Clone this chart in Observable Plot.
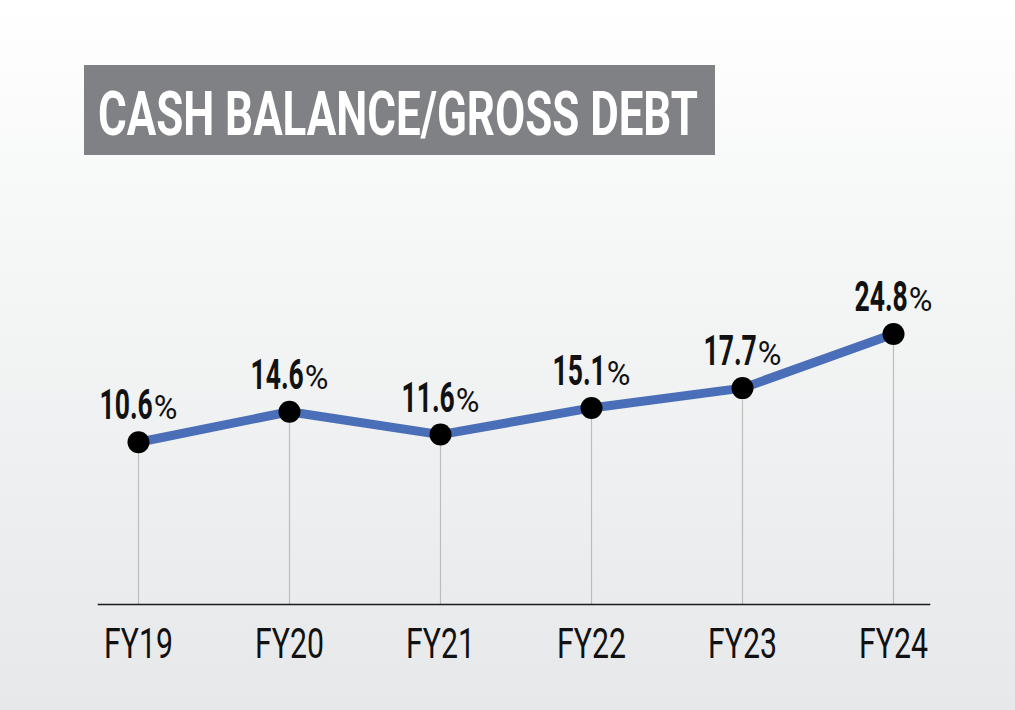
<!DOCTYPE html>
<html>
<head>
<meta charset="utf-8">
<script src="https://cdn.jsdelivr.net/npm/d3@7"></script>
<script src="https://cdn.jsdelivr.net/npm/@observablehq/plot@0.6"></script>
<style>
  html, body { margin: 0; padding: 0; }
  #wrap {
    position: relative; width: 1015px; height: 710px; overflow: hidden;
    background: linear-gradient(to bottom, #ffffff 0%, #f4f5f5 40%, #e7e8ea 100%);
    font-family: Roboto, "Liberation Sans", sans-serif;
  }
  #title {
    position: absolute; left: 84px; top: 65px; width: 631px; height: 90px;
    background: #808184; overflow: hidden;
  }
  #title span {
    position: absolute; left: 14px; top: 4px; line-height: 90px;
    color: #fff; font-weight: 700; font-size: 61px; white-space: nowrap;
    transform-origin: 0 50%;
  }
  #chart { position: absolute; left: 0; top: 0; }
  #chart svg { background: transparent; }
</style>
</head>
<body>
<div id="wrap">
  <div id="chart"></div>
  <div id="title"><span id="ttext"></span></div>
</div>
<script>
const titleText = "CASH BALANCE/GROSS DEBT";
const years = ["FY19", "FY20", "FY21", "FY22", "FY23", "FY24"];
const values = [10.6, 14.6, 11.6, 15.1, 17.7, 24.8];
const yBase = -10.7;

const data = years.map((y, i) => ({year: y, value: values[i]}));

document.getElementById("ttext").textContent = titleText;

const plot = Plot.plot({
  width: 1015,
  height: 710,
  marginLeft: 98,
  marginRight: 86,
  marginTop: 332,
  marginBottom: 106,
  style: {background: "transparent", fontFamily: "Roboto, 'Liberation Sans', sans-serif", color: "#111"},
  x: {type: "point", domain: years, range: [136, 895], padding: 0, label: null},
  y: {domain: [yBase, 25], axis: null},
  marks: [
    Plot.ruleX(data, {x: "year", y1: "value", y2: d => yBase, stroke: "#bdbdbd", strokeWidth: 1.2}),
    Plot.frame({anchor: "bottom", stroke: "#1a1a1a", strokeWidth: 1.6}),
    Plot.line(data, {x: "year", y: "value", stroke: "#4a6fb8", strokeWidth: 9, strokeLinejoin: "round"}),
    Plot.dot(data, {x: "year", y: "value", r: 11, fill: "#000", stroke: "none"}),
    Plot.text(data, {x: "year", y: "value", text: d => d.value.toFixed(1) + "%", className: "vlbl",
      lineAnchor: "bottom", dy: -23, fontSize: 42, fontWeight: 700, fill: "#111"}),
    Plot.axisX({tickSize: 0, tickPadding: 24, fontSize: 42, className: "xax", fill: "#111", label: null})
  ]
});
document.getElementById("chart").appendChild(plot);

const SVGNS = "http://www.w3.org/2000/svg";
const numScale = 0.63, pctScale = 0.98;
// Split value labels into a condensed bold number and a regular "%"
d3.select(plot).selectAll(".vlbl text").each(function() {
  const t = this;
  const parent = t.parentNode;
  const s = t.textContent;
  const tr = t.getAttribute("transform") || "";
  const yAttr = t.getAttribute("y");
  const num = document.createElementNS(SVGNS, "text");
  num.textContent = s.slice(0, -1);
  num.setAttribute("font-size", 42);
  num.setAttribute("font-weight", 700);
  num.setAttribute("text-anchor", "start");
  const pct = document.createElementNS(SVGNS, "text");
  pct.textContent = "%";
  pct.setAttribute("font-size", 33);
  pct.setAttribute("font-weight", 400);
  pct.setAttribute("text-anchor", "start");
  if (yAttr != null) { num.setAttribute("y", yAttr); pct.setAttribute("y", yAttr); }
  parent.appendChild(num);
  parent.appendChild(pct);
  const wNum = num.getComputedTextLength() * numScale;
  const wPct = pct.getComputedTextLength() * pctScale;
  const gap = 1;
  const ox = -(wNum + gap + wPct) / 2;
  num.setAttribute("transform", `${tr} translate(${ox},0) scale(${numScale},1)`);
  pct.setAttribute("transform", `${tr} translate(${ox + wNum + gap},0) scale(${pctScale},1)`);
  parent.removeChild(t);
});
d3.select(plot).selectAll(".xax text").each(function() {
  const t = d3.select(this);
  const tr = t.attr("transform") || "";
  t.attr("transform", tr + " scale(0.72,1)");
});

// Fit title to measured width
const span = document.getElementById("ttext");
const w = span.getBoundingClientRect().width;
span.style.transform = `scaleX(${600 / w})`;
</script>
</body>
</html>
